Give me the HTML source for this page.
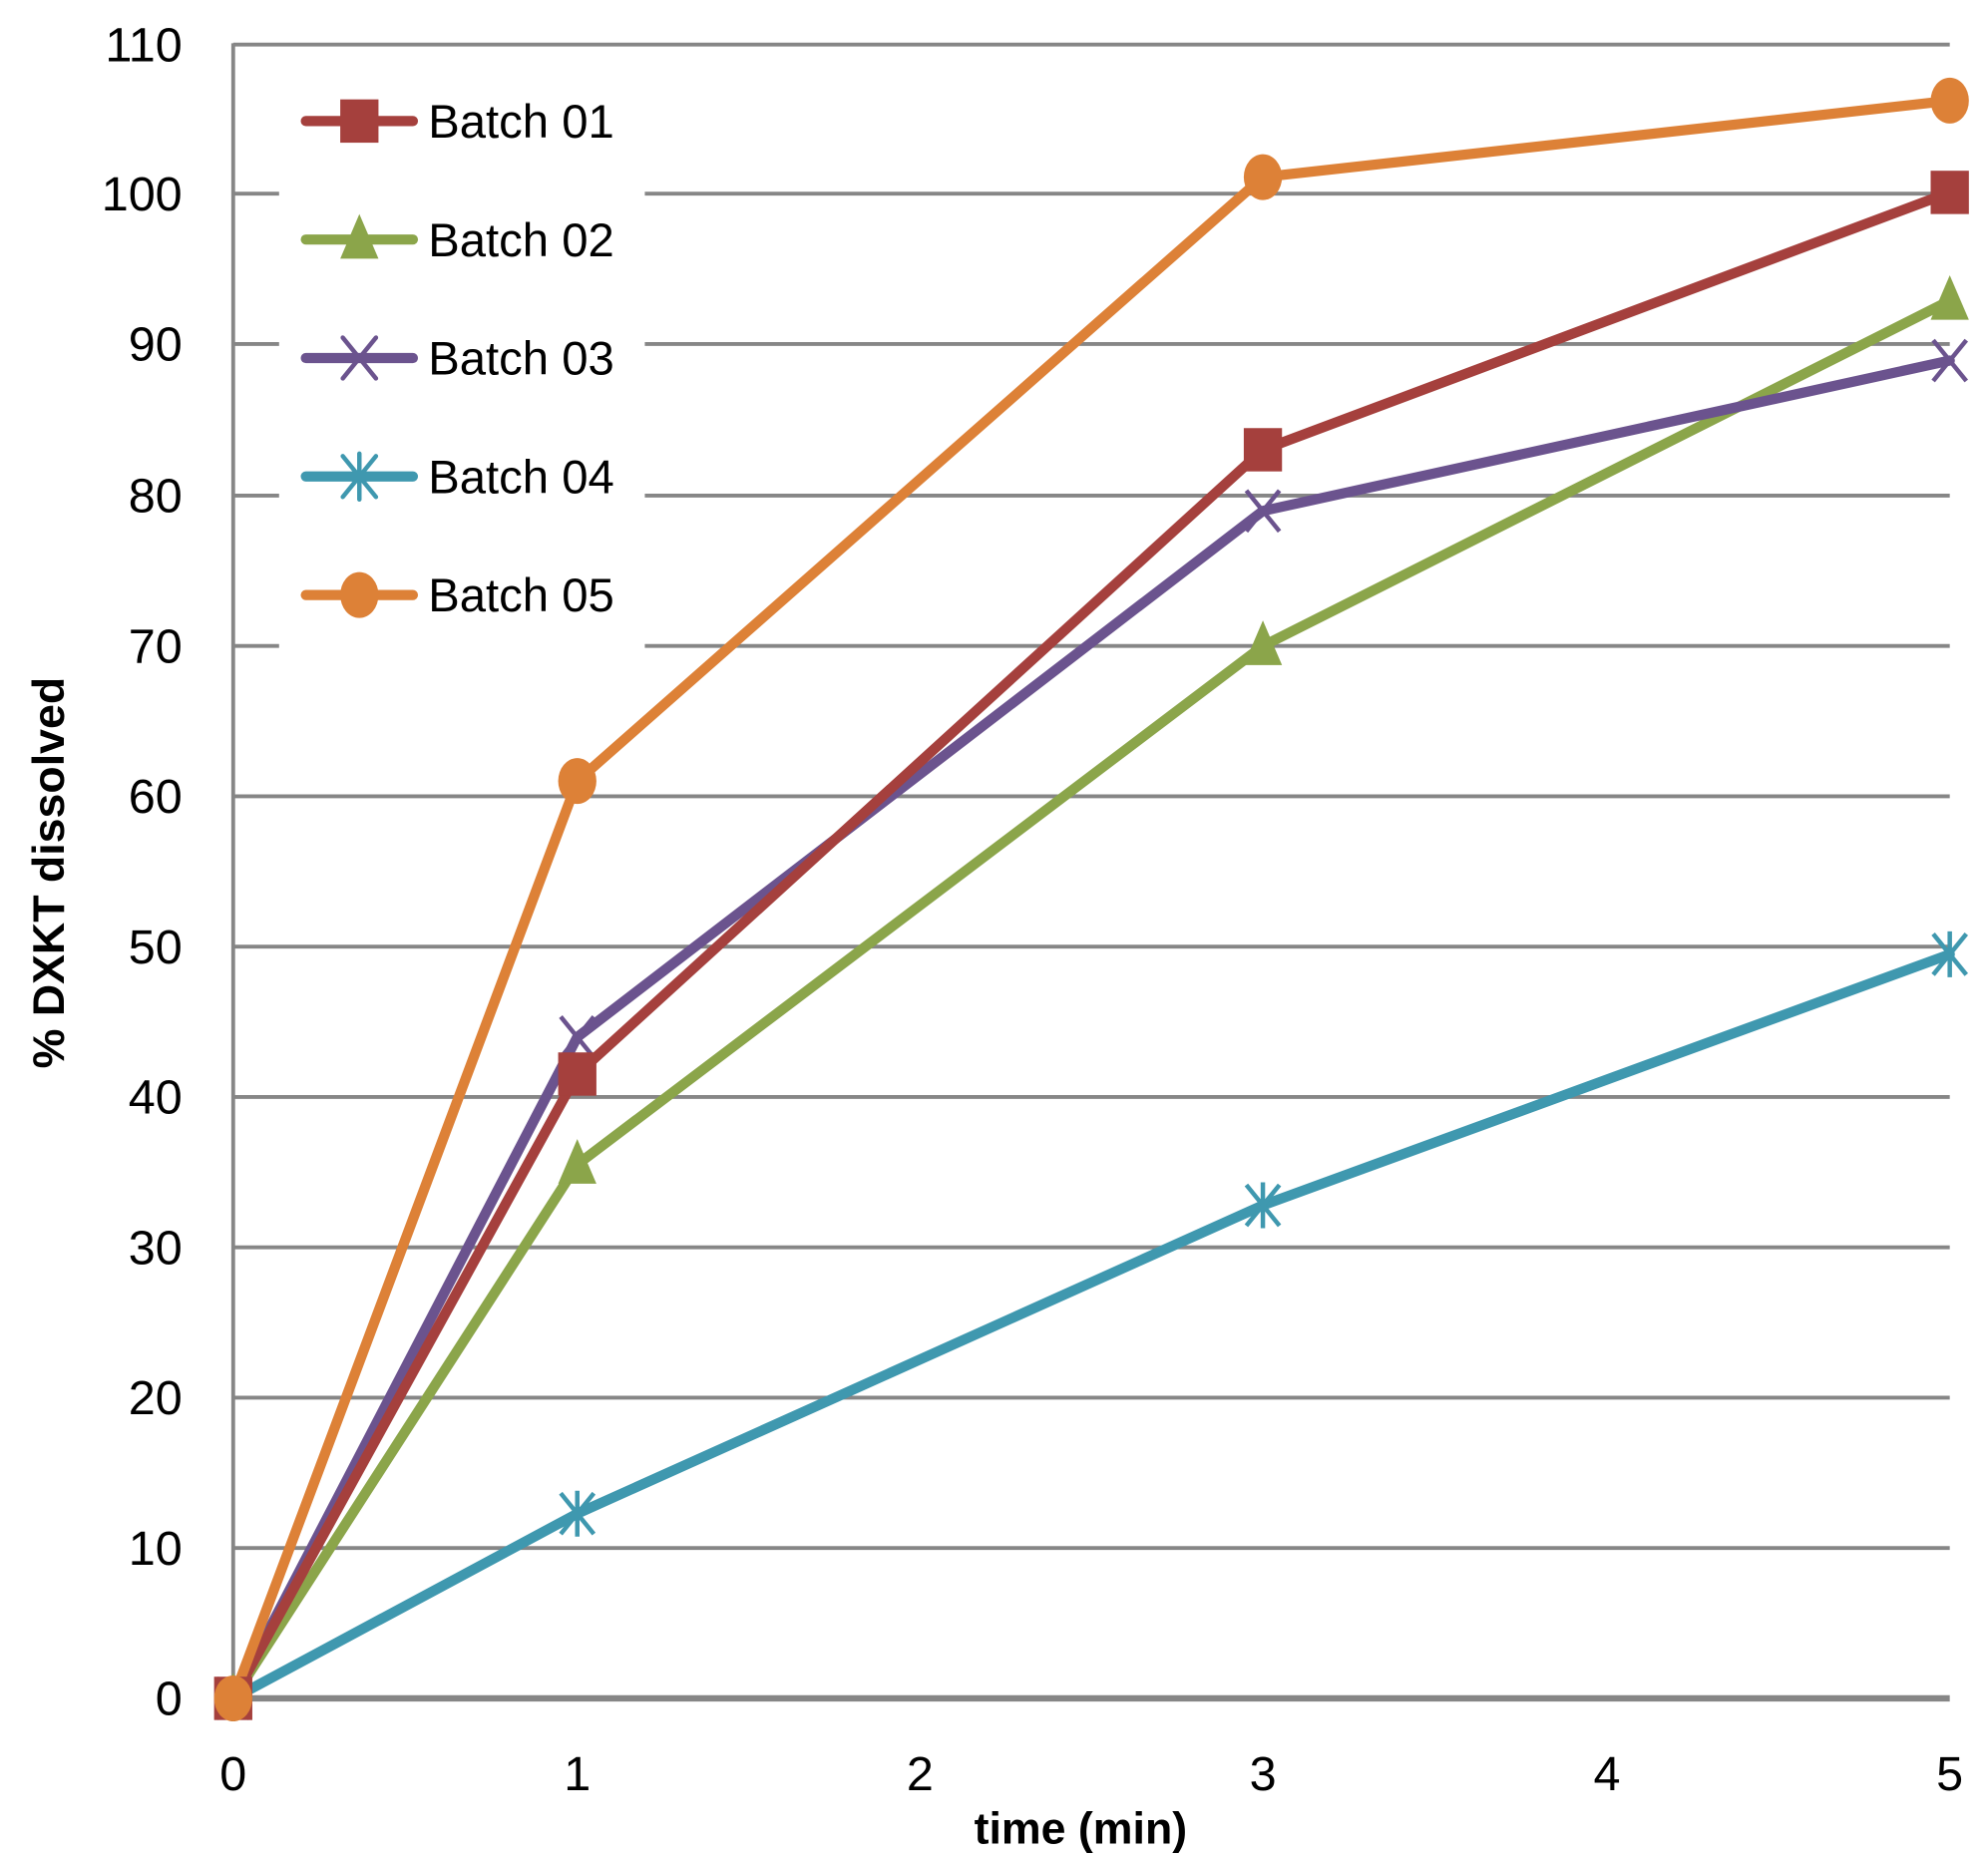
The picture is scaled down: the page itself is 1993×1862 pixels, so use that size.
<!DOCTYPE html>
<html><head><style>html,body{margin:0;padding:0;background:#fff}svg{display:block}</style></head>
<body>
<svg width="1993" height="1862" viewBox="0 0 1560 1457.5" preserveAspectRatio="none" xmlns="http://www.w3.org/2000/svg" font-family="Liberation Sans, sans-serif">
<g stroke="#868686" stroke-width="3">
<line x1="183" y1="35" x2="1530" y2="35"/>
<g>
<line x1="183" y1="152" x2="1530" y2="152"/>
<line x1="183" y1="270" x2="1530" y2="270"/>
<line x1="183" y1="389" x2="1530" y2="389"/>
<line x1="183" y1="507" x2="1530" y2="507"/>
<line x1="183" y1="625" x2="1530" y2="625"/>
<line x1="183" y1="743" x2="1530" y2="743"/>
<line x1="183" y1="861" x2="1530" y2="861"/>
<line x1="183" y1="979" x2="1530" y2="979"/>
<line x1="183" y1="1097" x2="1530" y2="1097"/>
<line x1="183" y1="1215" x2="1530" y2="1215"/>
</g>
<line x1="183" y1="34" x2="183" y2="1333"/>
</g>
<rect x="219" y="60" width="287" height="460" fill="#fff"/>
<line x1="183" y1="1333" x2="1530" y2="1333" stroke="#868686" stroke-width="5"/>
<g font-size="38" text-anchor="end" fill="#000">
<text x="143" y="48">110</text><text x="143" y="165">100</text><text x="143" y="283">90</text><text x="143" y="402">80</text><text x="143" y="520">70</text><text x="143" y="638">60</text><text x="143" y="756">50</text><text x="143" y="874">40</text><text x="143" y="992">30</text><text x="143" y="1110">20</text><text x="143" y="1228">10</text><text x="143" y="1346">0</text>
</g>
<g font-size="38" text-anchor="middle">
<text x="183" y="1405">0</text><text x="453" y="1405">1</text><text x="722" y="1405">2</text><text x="991" y="1405">3</text><text x="1261" y="1405">4</text><text x="1530" y="1405">5</text>
</g>
<text x="848" y="1447" font-size="35" font-weight="bold" text-anchor="middle">time (min)</text>
<text transform="translate(50,685) rotate(-90)" font-size="35" font-weight="bold" text-anchor="middle">% DXKT dissolved</text>
<g fill="none" stroke-width="8" stroke-linejoin="round" stroke-linecap="round">
<polyline stroke="#3F98AF" points="183,1333 453,1188 991,946 1530,749"/>
<polyline stroke="#8BA54A" points="183,1333 453,914 991,507 1530,236"/>
<polyline stroke="#6B538E" points="183,1333 453,814 991,401 1530,283"/>
<polyline stroke="#A5403D" points="183,1333 453,843 991,353 1530,151"/>
<polyline stroke="#DD8137" points="183,1333 453,613 991,139 1530,79"/>
</g>
<defs>
<rect id="sq" x="-15" y="-17" width="30" height="34" fill="#A5403D"/>
<polygon id="tr" points="0,-20 15,15 -15,15" fill="#8BA54A"/>
<path id="xx" d="M-13,-16 L13,16 M13,-16 L-13,16" stroke="#6B538E" stroke-width="3.5" fill="none"/>
<path id="as" d="M-13,-16 L13,16 M13,-16 L-13,16 M0,-18 L0,18" stroke="#3F98AF" stroke-width="3.5" fill="none"/>
<ellipse id="ci" rx="15" ry="18" fill="#DD8137"/>
</defs>
<use href="#as" x="183" y="1333"/><use href="#as" x="453" y="1188"/><use href="#as" x="991" y="946"/><use href="#as" x="1530" y="749"/>
<use href="#tr" x="183" y="1333"/><use href="#tr" x="453" y="914"/><use href="#tr" x="991" y="507"/><use href="#tr" x="1530" y="236"/>
<use href="#xx" x="183" y="1333"/><use href="#xx" x="453" y="814"/><use href="#xx" x="991" y="401"/><use href="#xx" x="1530" y="283"/>
<use href="#sq" x="183" y="1333"/><use href="#sq" x="453" y="843"/><use href="#sq" x="991" y="353"/><use href="#sq" x="1530" y="151"/>
<use href="#ci" x="183" y="1333"/><use href="#ci" x="453" y="613"/><use href="#ci" x="991" y="139"/><use href="#ci" x="1530" y="79"/>
<g stroke-width="8" stroke-linecap="round">
<line x1="240" y1="95" x2="324" y2="95" stroke="#A5403D"/><use href="#sq" x="282" y="95"/>
<line x1="240" y1="188" x2="324" y2="188" stroke="#8BA54A"/><use href="#tr" x="282" y="188"/>
<line x1="240" y1="281" x2="324" y2="281" stroke="#6B538E"/><use href="#xx" x="282" y="281"/>
<line x1="240" y1="374" x2="324" y2="374" stroke="#3F98AF"/><use href="#as" x="282" y="374"/>
<line x1="240" y1="467" x2="324" y2="467" stroke="#DD8137"/><use href="#ci" x="282" y="467"/>
</g>
<g font-size="37">
<text x="336" y="108">Batch 01</text><text x="336" y="201">Batch 02</text><text x="336" y="294">Batch 03</text><text x="336" y="387">Batch 04</text><text x="336" y="480">Batch 05</text>
</g>
</svg>
</body></html>
